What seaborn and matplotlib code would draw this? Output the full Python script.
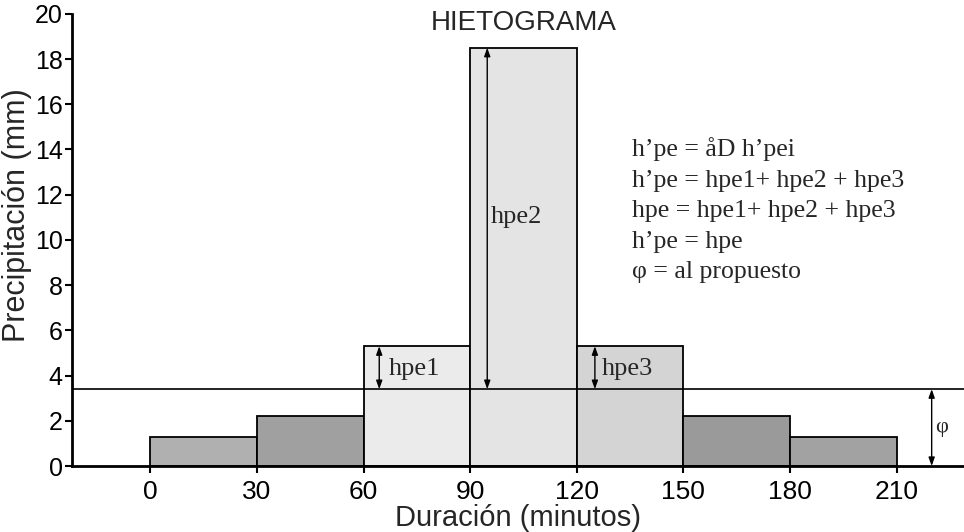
import matplotlib
matplotlib.use("Agg")
import matplotlib.pyplot as plt
import pandas as pd
import seaborn as sns


# bloques de 30 minutos del hietograma
intervals = ["0-30", "30-60", "60-90", "90-120", "120-150", "150-180", "180-210"]
centers = [15, 45, 75, 105, 135, 165, 195]
precip_mm = [1.3, 2.2, 5.3, 18.5, 5.3, 2.2, 1.3]
bar_colors = ["#b0b0b0", "#a0a0a0", "#ebebeb", "#e4e4e4", "#d4d4d4", "#9a9a9a", "#a2a2a2"]
x_ticks = [0, 30, 60, 90, 120, 150, 180, 210]
y_ticks = [0, 2, 4, 6, 8, 10, 12, 14, 16, 18, 20]
phi = 3.4

formula_lines = [
    "h\u2019pe = åD h\u2019pei",
    "h\u2019pe = hpe1+ hpe2 + hpe3",
    "hpe = hpe1+ hpe2 + hpe3",
    "h\u2019pe = hpe",
    "\u03c6 = al propuesto",
]


def draw_arrow(ax, x, y0, y1):
    ax.annotate(
        "",
        xy=(x, y1),
        xytext=(x, y0),
        arrowprops=dict(arrowstyle="<|-|>,head_length=0.5,head_width=0.18",
                        color="black", lw=1.0, shrinkA=0, shrinkB=0),
    )


def build_chart():
    sns.set_style("ticks")
    plt.rcParams["font.family"] = ["Liberation Sans", "DejaVu Sans"]

    df = pd.DataFrame({"interval": intervals, "center": centers, "precip": precip_mm})

    fig, ax = plt.subplots(figsize=(9.64, 5.32), dpi=100)
    fig.subplots_adjust(left=0.075, right=1.0, bottom=0.124, top=0.974)

    sns.barplot(
        data=df, x="center", y="precip", hue="interval", palette=bar_colors,
        native_scale=True, width=1.0, edgecolor="black", linewidth=1.3,
        legend=False, ax=ax,
    )

    ax.axhline(phi, color="black", lw=1.2, zorder=3)

    # flechas de los excesos y de phi
    draw_arrow(ax, 94.8, phi, precip_mm[3])
    draw_arrow(ax, 64.4, phi, precip_mm[2])
    draw_arrow(ax, 125.1, phi, precip_mm[4])
    draw_arrow(ax, 219.9, 0, phi)

    serif = ["Liberation Serif", "DejaVu Serif"]
    ax.text(95.8, 11.0, "hpe2", family=serif, fontsize=19, va="center", ha="left")
    ax.text(67.0, 4.3, "hpe1", family=serif, fontsize=19, va="center", ha="left")
    ax.text(127.0, 4.3, "hpe3", family=serif, fontsize=19, va="center", ha="left")
    ax.text(220.8, 1.7, "\u03c6", family=serif, fontsize=16, va="center", ha="left")
    ax.text(135.5, 14.55, "\n".join(formula_lines), family=serif, fontsize=18.5,
            va="top", ha="left", linespacing=1.5)

    ax.text(105, 19.6, "HIETOGRAMA", fontsize=20, ha="center", va="center")

    ax.set_xlim(-22, 229)
    ax.set_ylim(0, 20)
    ax.set_xticks(x_ticks)
    ax.set_yticks(y_ticks)
    ax.set_xticklabels([str(t) for t in x_ticks], fontsize=19,
                       family=["Liberation Sans Narrow", "Liberation Sans"])
    ax.set_yticklabels([str(t) for t in y_ticks], fontsize=18)
    ax.tick_params(axis="both", direction="out", length=5, width=1.5, colors="black", pad=2)
    ax.tick_params(axis="x", pad=5)

    ax.set_xlabel("Duración (minutos)", fontsize=21, labelpad=0,
                  family=["Liberation Sans Narrow", "Liberation Sans"])
    ax.set_ylabel("Precipitación (mm)", fontsize=22)
    ax.yaxis.set_label_coords(-0.045, 0.555)

    sns.despine(ax=ax)
    for side in ["left", "bottom"]:
        ax.spines[side].set_linewidth(2.0)
        ax.spines[side].set_color("black")

    fig.savefig("out.png", dpi=100, facecolor="white")
    plt.close(fig)


if __name__ == "__main__":
    build_chart()
